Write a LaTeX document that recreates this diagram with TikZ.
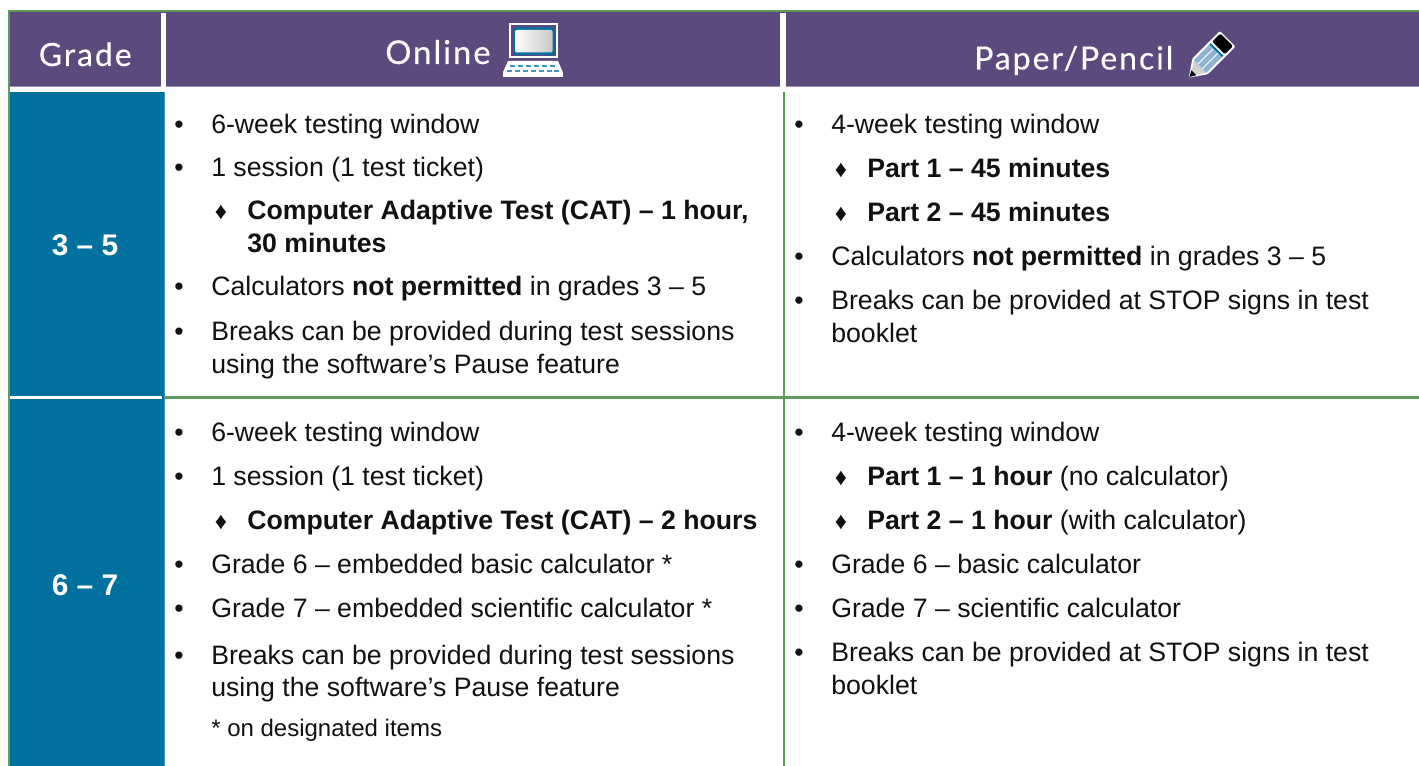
\documentclass[tikz,border=0pt]{standalone}
\usepackage{fontspec}
\setmainfont{Liberation Sans}
\newfontfamily\headfont[LetterSpace=6,FakeBold=0.25]{Lato}
\definecolor{hpurple}{HTML}{5C4A7F}
\definecolor{hline}{HTML}{9A8DB5}
\definecolor{gteal}{HTML}{00709F}
\definecolor{gedge}{HTML}{3E97C4}
\definecolor{rulegreen}{HTML}{5E9C5C}
\definecolor{ink}{HTML}{111111}
\definecolor{pencilblue}{HTML}{8FB4D0}
\tikzset{
  x=0.75pt,y=-0.75pt,
  head/.style={anchor=base west,inner sep=0,text=white,font=\headfont\fontsize{24}{28}\selectfont},
  body/.style={anchor=base west,inner sep=0,text=ink,font=\fontsize{20}{24}\selectfont},
  small/.style={anchor=base west,inner sep=0,text=ink,font=\fontsize{18}{22}\selectfont},
  mark bullet/.style={anchor=base,inner sep=0,text=ink,font=\fontsize{20}{24}\selectfont},
  mark diamond/.style={anchor=base,inner sep=0,text=ink,font=\fontsize{18}{22}\selectfont},
  grade/.style={anchor=center,inner sep=0,text=white,font=\bfseries\fontsize{22.4}{26}\selectfont},
}
\newcommand{\bul}[3]{\node[mark bullet] (b#1) at (#2,#3) {•};}
\newcommand{\dia}[3]{\node[mark diamond] (d#1) at (#2,#3) {♦};}
\begin{document}
\begin{tikzpicture}
\useasboundingbox (0,0) rectangle (1419,766);
\fill[white] (0,0) rectangle (1419,766);
% header
\fill[hpurple] (9,12) rectangle (1419,87);
\fill[rulegreen] (8,10) rectangle (1419,12.2);
\fill[hline] (9,86) rectangle (1419,87);
\fill[white] (161,13) rectangle (166,87);
\fill[white] (780,13) rectangle (786,87);
% grade column
\fill[gteal] (10,92) rectangle (164.5,766);
\fill[gedge] (163.5,92) rectangle (164.8,766);
\fill[rulegreen] (8,10) rectangle (10,766);
\fill[white] (10,396) rectangle (162,398.7);
% rules
\fill[rulegreen] (165,396) rectangle (1419,398.7);
\fill[rulegreen] (782.6,92) rectangle (785,766);
% header text
\node[head] (hgrade) at (38.5,66) {Grade};
\node[head,font=\headfont\fontsize{24.6}{28}\selectfont] (honline) at (385,64) {Online};
\node[head] (hpaper) at (974,69.5) {Paper/Pencil};
% laptop icon
\fill[white] (509,23) rectangle (558,58.5);
\fill[hpurple] (511,25) rectangle (556,56.5);
\fill[gteal,rounded corners=1.5] (513,27.5) rectangle (554.5,55);
\shade[left color=white,right color=black!22,rounded corners=1] (515,30) rectangle (552.5,52.5);
\fill[white] (508,61) -- (558,61) -- (562.8,72) -- (562.8,77) -- (503,77) -- (503,72) -- cycle;
\foreach \kx in {510,518,526,534,542,550}
  \fill[gedge] (\kx,65.5) rectangle +(5,1.6);
\foreach \kx in {507,515,523,531,539,547,554}
  \fill[gedge] (\kx,70) rectangle +(5,1.6);
% pencil icon
\begin{scope}[shift={(1189.5,77)},rotate=45]
  \fill[white,rounded corners=1] (-1,0) -- (15,-11) -- (54,-11) -- (54,11) -- (15,11) -- cycle;
  \fill[black!18] (2,0) -- (15,-9) -- (15,9) -- cycle;
  \fill[black] (0,0) -- (6,-3.5) -- (6,3.5) -- cycle;
  \fill[pencilblue] (15,-9) rectangle (37,9);
  \fill[white] (15,-3.7) rectangle (37,-2.7);
  \fill[white] (15,2.7) rectangle (37,3.7);
  \fill[gteal] (37,-9) rectangle (39,9);
  \fill[black,rounded corners=1.5] (41,-9) rectangle (52.5,9);
\end{scope}
% grades
\node[grade] (g35) at (85,245) {3 – 5};
\node[grade] (g67) at (85,585) {6 – 7};
% online 3-5
\bul{a1}{179}{134}\node[body] (a1) at (211,134) {6-week testing window};
\bul{a2}{179}{177}\node[body] (a2) at (211,177) {1 session (1 test ticket)};
\dia{a3}{221}{220}\node[body] (a3) at (247,220) {\bfseries Computer Adaptive Test (CAT) – 1 hour,};
\node[body] (a3b) at (247,253) {\bfseries 30 minutes};
\bul{a4}{179}{296}\node[body] (a4) at (211,296) {Calculators \textbf{not permitted} in grades 3 – 5};
\bul{a5}{179}{340}\node[body] (a5) at (211,340) {Breaks can be provided during test sessions};
\node[body] (a5b) at (211,373) {using the software’s Pause feature};
% paper 3-5
\bul{c1}{799}{134}\node[body] (c1) at (831,134) {4-week testing window};
\dia{c2}{841}{178}\node[body] (c2) at (867,178) {\bfseries Part 1 – 45 minutes};
\dia{c3}{841}{222}\node[body] (c3) at (867,222) {\bfseries Part 2 – 45 minutes};
\bul{c4}{799}{266}\node[body] (c4) at (831,266) {Calculators \textbf{not permitted} in grades 3 – 5};
\bul{c5}{799}{310}\node[body] (c5) at (831,310) {Breaks can be provided at STOP signs in test};
\node[body] (c5b) at (831,342) {booklet};
% online 6-7
\bul{e1}{179}{441}\node[body] (e1) at (211,441) {6-week testing window};
\bul{e2}{179}{485}\node[body] (e2) at (211,485) {1 session (1 test ticket)};
\dia{e3}{221}{529}\node[body] (e3) at (247,529) {\bfseries Computer Adaptive Test (CAT) – 2 hours};
\bul{e4}{179}{573}\node[body] (e4) at (211,573) {Grade 6 – embedded basic calculator *};
\bul{e5}{179}{617}\node[body] (e5) at (211,617) {Grade 7 – embedded scientific calculator *};
\bul{e6}{179}{664}\node[body] (e6) at (211,664) {Breaks can be provided during test sessions};
\node[body] (e6b) at (211,696) {using the software’s Pause feature};
\node[small] (e7) at (211,736) {* on designated items};
% paper 6-7
\bul{f1}{799}{441}\node[body] (f1) at (831,441) {4-week testing window};
\dia{f2}{841}{485}\node[body] (f2) at (867,485) {\textbf{Part 1 – 1 hour} (no calculator)};
\dia{f3}{841}{529}\node[body] (f3) at (867,529) {\textbf{Part 2 – 1 hour} (with calculator)};
\bul{f4}{799}{573}\node[body] (f4) at (831,573) {Grade 6 – basic calculator};
\bul{f5}{799}{617}\node[body] (f5) at (831,617) {Grade 7 – scientific calculator};
\bul{f6}{799}{661}\node[body] (f6) at (831,661) {Breaks can be provided at STOP signs in test};
\node[body] (f6b) at (831,694) {booklet};
\end{tikzpicture}
\end{document}
